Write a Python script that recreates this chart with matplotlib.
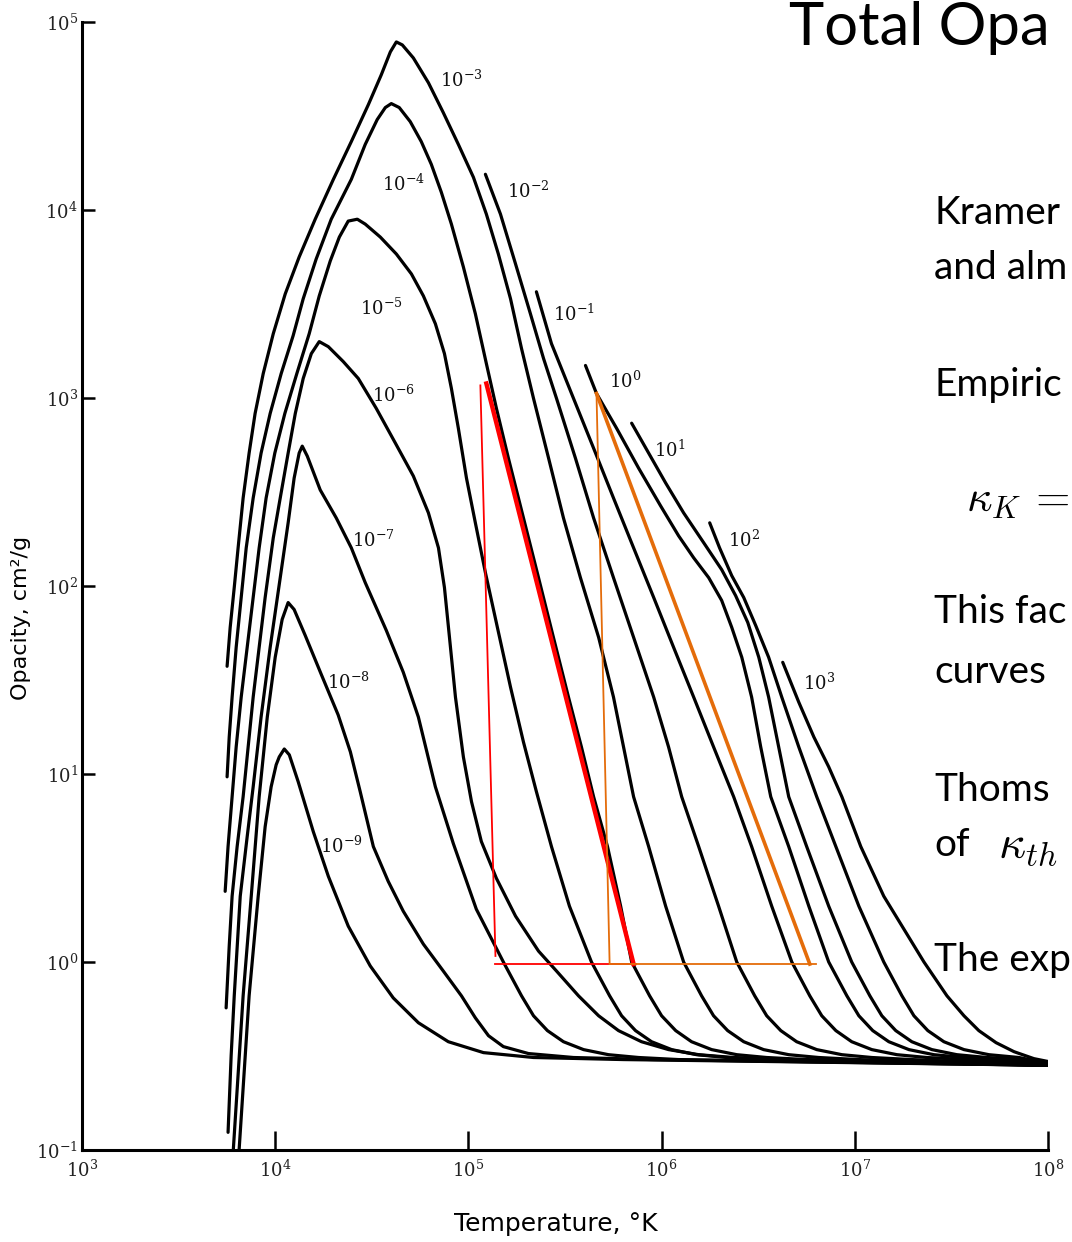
#!/usr/bin/env python3
"""
Total opacity vs temperature for a range of densities (Cox & Giuli style chart)
with the Kramers fit triangles and the slide text at the right.
"""

import numpy as np
import matplotlib
matplotlib.use("Agg")
import matplotlib.pyplot as plt
from matplotlib.ticker import NullLocator

# ---- data: log10 T and log10 kappa, one pair per density ----
t_m9 = [3.81, 3.865, 3.912, 3.948, 3.979, 4.005, 4.021, 4.047, 4.073, 4.119, 4.197, 4.275, 4.378, 4.492,
        4.611, 4.741, 4.896, 5.078, 5.337, 5.803, 8.05]
k_m9 = [-1.05, -0.18, 0.35, 0.72, 0.932, 1.049, 1.091, 1.133, 1.102, 0.959, 0.694, 0.456, 0.191, -0.021,
        -0.191, -0.323, -0.424, -0.482, -0.508, -0.519, -0.55]

t_m8 = [3.78, 3.834, 3.876, 3.917, 3.959, 4.0, 4.036, 4.067, 4.098, 4.155, 4.238, 4.326, 4.389, 4.44,
        4.508, 4.585, 4.663, 4.767, 4.87, 4.964, 5.036, 5.104, 5.181, 5.311, 5.544, 5.959, 8.05]
k_m8 = [-1.05, -0.18, 0.35, 0.879, 1.303, 1.621, 1.822, 1.912, 1.875, 1.738, 1.531, 1.314, 1.118, 0.906,
        0.614, 0.429, 0.27, 0.095, -0.048, -0.18, -0.297, -0.392, -0.45, -0.487, -0.508, -0.519, -0.55]

t_m7 = [3.756, 3.772, 3.788, 3.819, 3.855, 3.886, 3.927, 3.974, 4.026, 4.067, 4.098, 4.124, 4.14, 4.166,
        4.233, 4.316, 4.394, 4.466, 4.575, 4.663, 4.741, 4.829, 4.922, 5.041, 5.181, 5.275, 5.337, 5.409,
        5.492, 5.596, 5.725, 5.881, 6.088, 8.05]
k_m7 = [-0.906, -0.498, -0.18, 0.35, 0.667, 0.932, 1.303, 1.674, 2.044, 2.336, 2.574, 2.707, 2.744, 2.691,
        2.511, 2.362, 2.203, 2.018, 1.764, 1.541, 1.303, 0.932, 0.63, 0.281, 0.0, -0.18, -0.286, -0.365,
        -0.424, -0.466, -0.493, -0.508, -0.519, -0.55]

t_m6 = [3.746, 3.762, 3.777, 3.803, 3.834, 3.886, 3.948, 3.99, 4.026, 4.067, 4.104, 4.145, 4.187, 4.228,
        4.275, 4.352, 4.43, 4.523, 4.622, 4.715, 4.793, 4.845, 4.876, 4.902, 4.933, 4.974, 5.016, 5.067,
        5.145, 5.244, 5.363, 5.456, 5.57, 5.674, 5.777, 5.896, 6.036, 6.192, 6.373, 6.632, 8.05]
k_m6 = [-0.244, 0.085, 0.35, 0.614, 0.879, 1.409, 1.939, 2.256, 2.468, 2.707, 2.918, 3.104, 3.236, 3.3,
        3.273, 3.194, 3.104, 2.945, 2.76, 2.585, 2.389, 2.203, 1.992, 1.727, 1.409, 1.091, 0.853, 0.641,
        0.445, 0.244, 0.058, -0.048, -0.18, -0.286, -0.365, -0.424, -0.466, -0.493, -0.508, -0.519, -0.55]

t_m5 = [3.741, 3.756, 3.777, 3.798, 3.824, 3.855, 3.886, 3.917, 3.953, 3.998, 4.05, 4.112, 4.176, 4.228,
        4.285, 4.332, 4.378, 4.425, 4.466, 4.544, 4.627, 4.705, 4.767, 4.829, 4.876, 4.912, 4.948, 4.99,
        5.036, 5.088, 5.15, 5.218, 5.285, 5.352, 5.43, 5.523, 5.637, 5.731, 5.793, 5.865, 5.948, 6.052,
        6.181, 6.337, 6.544, 8.05]
k_m5 = [0.376, 0.614, 0.879, 1.144, 1.409, 1.674, 1.939, 2.203, 2.468, 2.707, 2.918, 3.13, 3.342, 3.543,
        3.729, 3.856, 3.941, 3.951, 3.925, 3.856, 3.766, 3.66, 3.543, 3.395, 3.236, 3.051, 2.839, 2.574,
        2.336, 2.071, 1.78, 1.462, 1.17, 0.906, 0.614, 0.297, 0.0, -0.18, -0.286, -0.365, -0.424, -0.466,
        -0.493, -0.508, -0.519, -0.55]

t_m4 = [3.751, 3.762, 3.777, 3.798, 3.824, 3.85, 3.886, 3.927, 3.974, 4.031, 4.093, 4.145, 4.212, 4.29,
        4.394, 4.466, 4.528, 4.57, 4.601, 4.642, 4.699, 4.756, 4.808, 4.86, 4.912, 4.974, 5.036, 5.093,
        5.145, 5.207, 5.285, 5.363, 5.44, 5.518, 5.585, 5.648, 5.72, 5.788, 5.845, 5.938, 6.0, 6.073,
        6.155, 6.259, 6.389, 6.544, 6.751, 8.05]
k_m4 = [0.985, 1.197, 1.409, 1.674, 1.939, 2.203, 2.468, 2.707, 2.918, 3.13, 3.332, 3.528, 3.739, 3.951,
        4.163, 4.349, 4.481, 4.545, 4.566, 4.545, 4.47, 4.364, 4.243, 4.094, 3.925, 3.697, 3.448, 3.183,
        2.945, 2.68, 2.362, 2.044, 1.727, 1.409, 1.144, 0.879, 0.614, 0.297, 0.0, -0.18, -0.286, -0.365,
        -0.424, -0.466, -0.493, -0.508, -0.519, -0.55]

t_m3 = [3.751, 3.767, 3.788, 3.808, 3.834, 3.865, 3.896, 3.938, 3.99, 4.052, 4.124, 4.207, 4.301, 4.394,
        4.482, 4.549, 4.596, 4.627, 4.658, 4.715, 4.793, 4.87, 4.948, 5.026, 5.093, 5.155, 5.218, 5.275,
        5.337, 5.415, 5.492, 5.58, 5.674, 5.751, 5.803, 5.855, 5.933, 6.021, 6.114, 6.207, 6.269, 6.342,
        6.425, 6.528, 6.658, 6.813, 7.021, 8.05]
k_m3 = [1.573, 1.78, 1.992, 2.203, 2.468, 2.707, 2.918, 3.13, 3.342, 3.554, 3.75, 3.951, 4.163, 4.364,
        4.56, 4.719, 4.841, 4.894, 4.878, 4.809, 4.677, 4.518, 4.349, 4.174, 3.978, 3.766, 3.528, 3.263,
        2.998, 2.68, 2.362, 2.044, 1.727, 1.409, 1.144, 0.879, 0.614, 0.297, 0.0, -0.18, -0.286, -0.365,
        -0.424, -0.466, -0.493, -0.508, -0.519, -0.55]

t_m2 = [5.088, 5.166, 5.244, 5.321, 5.389, 5.456, 5.554, 5.648, 5.751, 5.855, 5.959, 6.036, 6.104, 6.192,
        6.295, 6.389, 6.482, 6.544, 6.617, 6.699, 6.803, 6.933, 7.088, 7.295, 8.05]
k_m2 = [4.19, 3.978, 3.713, 3.448, 3.21, 2.998, 2.68, 2.362, 2.044, 1.727, 1.409, 1.144, 0.879, 0.614,
        0.297, 0.0, -0.18, -0.286, -0.365, -0.424, -0.466, -0.493, -0.508, -0.519, -0.55]

t_m1 = [5.352, 5.43, 5.544, 5.648, 5.751, 5.855, 5.959, 6.062, 6.166, 6.269, 6.373, 6.466, 6.57, 6.674,
        6.767, 6.829, 6.902, 6.984, 7.088, 7.218, 7.373, 7.58, 8.05]
k_m1 = [3.565, 3.289, 2.998, 2.733, 2.468, 2.203, 1.939, 1.674, 1.409, 1.144, 0.879, 0.614, 0.297, 0.0,
        -0.18, -0.286, -0.365, -0.424, -0.466, -0.493, -0.508, -0.519, -0.55]

t_p0 = [5.606, 5.663, 5.767, 5.881, 5.995, 6.088, 6.166, 6.244, 6.311, 6.363, 6.415, 6.466, 6.513, 6.565,
        6.658, 6.762, 6.865, 6.959, 7.021, 7.093, 7.176, 7.28, 7.409, 7.565, 7.772, 8.05]
k_p0 = [3.173, 3.024, 2.839, 2.627, 2.426, 2.267, 2.15, 2.044, 1.923, 1.78, 1.621, 1.409, 1.144, 0.879,
        0.614, 0.297, 0.0, -0.18, -0.286, -0.365, -0.424, -0.466, -0.493, -0.508, -0.519, -0.55]

t_p1 = [5.845, 5.933, 6.021, 6.114, 6.218, 6.311, 6.383, 6.446, 6.503, 6.554, 6.606, 6.658, 6.751, 6.865,
        6.984, 7.078, 7.14, 7.212, 7.295, 7.399, 7.528, 7.684, 7.891, 8.05]
k_p1 = [2.866, 2.707, 2.548, 2.389, 2.23, 2.087, 1.949, 1.806, 1.621, 1.409, 1.144, 0.879, 0.614, 0.297,
        0.0, -0.18, -0.286, -0.365, -0.424, -0.466, -0.493, -0.508, -0.519, -0.55]

t_p2 = [6.249, 6.3, 6.363, 6.425, 6.487, 6.554, 6.622, 6.71, 6.803, 6.902, 7.021, 7.15, 7.244, 7.306,
        7.378, 7.461, 7.565, 7.694, 7.85, 8.05]
k_p2 = [2.336, 2.203, 2.055, 1.939, 1.79, 1.621, 1.409, 1.144, 0.879, 0.614, 0.297, 0.0, -0.18, -0.286,
        -0.365, -0.424, -0.466, -0.493, -0.508, -0.55]

t_p3 = [6.627, 6.71, 6.788, 6.865, 6.933, 7.031, 7.15, 7.254, 7.358, 7.477, 7.565, 7.642, 7.731, 7.824,
        7.927, 8.052]
k_p3 = [1.594, 1.382, 1.197, 1.038, 0.879, 0.614, 0.35, 0.175, 0.0, -0.18, -0.286, -0.365, -0.429, -0.477,
        -0.514, -0.54]

# curve labels: exponent of density and where the label sits (log T, log kappa)
label_exp = [-3, -4, -2, -5, -1, -6, 0, 1, -7, 2, -8, 3, -9]
label_t = [4.964, 4.663, 5.311, 4.549, 5.544, 4.611, 5.813, 6.041, 4.508, 6.425, 4.378, 6.813, 4.342]
label_k = [4.693, 4.137, 4.100, 3.475, 3.448, 3.014, 3.088, 2.722, 2.246, 2.246, 1.488, 1.483, 0.614]

# Kramers fit triangles (log T, log kappa)
red_vert_t, red_vert_k = [5.062, 5.140], [3.067, 0.032]
red_base_t, red_base_k = [5.140, 5.865], [-0.011, -0.011]
red_hyp_t, red_hyp_k = [5.093, 5.855], [3.077, -0.011]
org_vert_t, org_vert_k = [5.663, 5.731], [3.024, -0.011]
org_base_t, org_base_k = [5.731, 6.798], [-0.011, -0.011]
org_hyp_t, org_hyp_k = [5.663, 6.767], [3.024, -0.011]

x_ticks = [3, 4, 5, 6, 7, 8]
y_ticks = [-1, 0, 1, 2, 3, 4, 5]

W, H = 1072, 1242
AX_L, AX_R, AX_T, AX_B = 82, 1048, 22, 1150


def fx(px):
    return px / W


def fy(py):
    return 1 - py / H


def draw_curves(ax):
    """Opacity curves, one per density"""
    curves = [(t_m9, k_m9), (t_m8, k_m8), (t_m7, k_m7), (t_m6, k_m6), (t_m5, k_m5),
              (t_m4, k_m4), (t_m3, k_m3), (t_m2, k_m2), (t_m1, k_m1), (t_p0, k_p0),
              (t_p1, k_p1), (t_p2, k_p2), (t_p3, k_p3)]
    for t, k in curves:
        ax.plot(10 ** np.array(t), 10 ** np.array(k), color="black", lw=2.3,
                solid_capstyle="round", solid_joinstyle="round")

    for e, t, k in zip(label_exp, label_t, label_k):
        ax.text(10 ** t, 10 ** k, r"$10^{%d}$" % e, fontsize=13, ha="center", va="center",
                family="DejaVu Serif", math_fontfamily="dejavuserif", color="#111111")


def draw_triangles(ax):
    """Red and orange slope triangles"""
    red, orange = "#ff0000", "#e46c0a"
    for t, k in [(red_vert_t, red_vert_k), (red_base_t, red_base_k)]:
        ax.plot(10 ** np.array(t), 10 ** np.array(k), color=red, lw=1.3)
    ax.plot(10 ** np.array(red_hyp_t), 10 ** np.array(red_hyp_k), color=red, lw=3.2)
    for t, k in [(org_vert_t, org_vert_k), (org_base_t, org_base_k)]:
        ax.plot(10 ** np.array(t), 10 ** np.array(k), color=orange, lw=1.3)
    ax.plot(10 ** np.array(org_hyp_t), 10 ** np.array(org_hyp_k), color=orange, lw=2.6)


def style_axes(ax):
    ax.set_xscale("log")
    ax.set_yscale("log")
    ax.set_xlim(1e3, 1e8)
    ax.set_ylim(1e-1, 1e5)
    for side in ["top", "right"]:
        ax.spines[side].set_visible(False)
    for side in ["left", "bottom"]:
        ax.spines[side].set_linewidth(2.2)
    ax.xaxis.set_minor_locator(NullLocator())
    ax.yaxis.set_minor_locator(NullLocator())
    ax.set_xticks([10.0 ** v for v in x_ticks])
    ax.set_yticks([10.0 ** v for v in y_ticks])
    ax.set_xticklabels([r"$10^{%d}$" % v for v in x_ticks])
    ax.set_yticklabels([r"$10^{%d}$" % v for v in y_ticks])
    ax.tick_params(axis="x", direction="in", length=14, width=1.8, pad=7)
    ax.tick_params(axis="y", direction="in", length=9, width=1.8, pad=3)
    for lab in ax.get_xticklabels() + ax.get_yticklabels():
        lab.set_fontsize(13)
        lab.set_family("DejaVu Serif")
        lab.set_math_fontfamily("dejavuserif")
        lab.set_color("#222222")

    ax.set_ylabel("Opacity, cm²/g", fontsize=16, family="DejaVu Sans")
    ax.set_xlabel("Temperature, °K", fontsize=18, family="DejaVu Sans")
    width = AX_R - AX_L
    height = AX_B - AX_T
    ax.yaxis.set_label_coords((31 - AX_L) / width, (AX_B - 618) / height)
    ax.xaxis.set_label_coords((556 - AX_L) / width, -(1212 - AX_B) / height)


def draw_slide_text(fig):
    """Slide text at the right, cut off by the figure edge as in the slide"""
    body = dict(fontsize=28, family="Lato", color="black", va="center", ha="left")
    fig.text(fx(789), fy(45), "Total Opa", fontsize=43, family="Lato", va="baseline", ha="left")
    fig.text(fx(934), fy(213), "Kramer", **body)
    fig.text(fx(934), fy(268), "and alm", **body)
    fig.text(fx(934), fy(385), "Empiric", **body)
    fig.text(fx(966), fy(500), r"$\kappa_K\,=$", fontsize=32, math_fontfamily="cm",
             va="center", ha="left")
    fig.text(fx(934), fy(612), "This fac", **body)
    fig.text(fx(934), fy(672), "curves", **body)
    fig.text(fx(934), fy(790), "Thoms", **body)
    fig.text(fx(934), fy(845), "of", **body)
    fig.text(fx(998), fy(845), r"$\kappa_{th}$", fontsize=34, math_fontfamily="cm",
             va="center", ha="left")
    fig.text(fx(934), fy(960), "The exp", **body)


def main():
    fig = plt.figure(figsize=(W / 100, H / 100), dpi=100)
    ax = fig.add_axes([fx(AX_L), fy(AX_B), (AX_R - AX_L) / W, (AX_B - AX_T) / H])

    style_axes(ax)
    draw_curves(ax)
    draw_triangles(ax)
    draw_slide_text(fig)

    fig.savefig("out.png", dpi=100)
    print("saved out.png")


if __name__ == "__main__":
    main()
